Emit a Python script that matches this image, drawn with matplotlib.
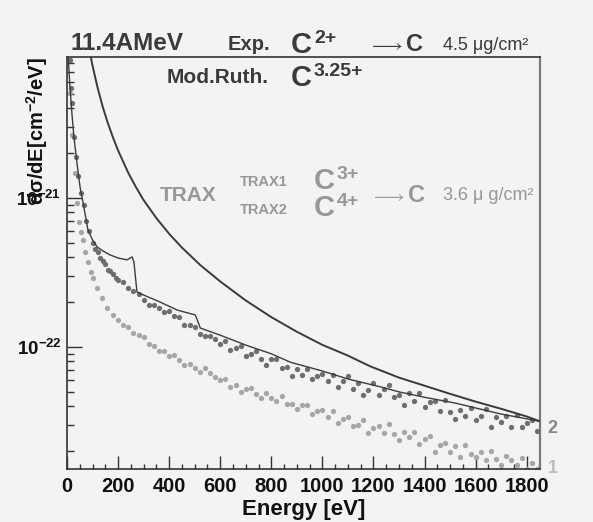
import numpy as np
import matplotlib
matplotlib.use('Agg')
import matplotlib.pyplot as plt
from matplotlib.ticker import FixedLocator, FixedFormatter, LogLocator, MultipleLocator, NullFormatter

plt.rcParams['font.family'] = ['Liberation Sans', 'DejaVu Sans']
plt.rcParams['mathtext.fontset'] = 'custom'
plt.rcParams['mathtext.rm'] = 'Liberation Sans'
plt.rcParams['mathtext.bf'] = 'Liberation Sans:bold'
plt.rcParams['mathtext.it'] = 'Liberation Sans:italic'

SCALE = 1e-22  # values below are in units of 1e-22 cm^-2/eV

# Modified Rutherford curve C^3.25+
ruth_E = [85, 93, 100, 120, 140, 160, 180, 200, 240, 270, 298, 350, 400, 450, 522, 600,
          700, 800, 900, 1000, 1100, 1188, 1300, 1400, 1500, 1600, 1700, 1800, 1850]
ruth_v = [104.6, 88.3, 76.9, 54.6, 40.7, 31.7, 25.4, 20.8, 14.7, 11.8, 9.77, 7.31, 5.74,
          4.64, 3.54, 2.75, 2.05, 1.585, 1.265, 1.033, 0.875, 0.741, 0.623, 0.55, 0.485,
          0.43, 0.385, 0.342, 0.318]

# TRAX calculation (thin line with edges)
trax_E = [3, 10, 18, 27, 40, 51, 63, 82, 100, 118, 140, 169, 200, 235, 255, 262, 274, 300,
          365, 431, 502, 510, 522, 600, 700, 800, 875, 1000, 1100, 1228, 1300, 1400, 1522,
          1600, 1700, 1850]
trax_v = [98.4, 61.9, 39.0, 25.7, 16.6, 11.85, 9.25, 6.10, 5.22, 4.69, 4.41, 4.14, 3.95, 3.84,
          4.02, 3.72, 2.34, 2.23, 2.00, 1.77, 1.64, 1.52, 1.34, 1.20, 1.03, 0.90, 0.79, 0.69,
          0.61, 0.54, 0.50, 0.46, 0.42, 0.39, 0.355, 0.318]

# dots, series 2 (darker)
d2_E = [10, 15, 20, 27, 35, 45, 55, 65, 75, 88, 100, 110, 120, 130, 140, 150, 160, 170, 180,
        190, 200, 220, 240, 260, 280, 300, 320, 340, 360, 380, 400, 420, 440, 460, 480, 500,
        520, 540, 560, 580, 600, 620, 640, 660, 680, 700, 720, 740, 760, 780, 800, 820, 840,
        860, 880, 900, 920, 940, 960, 980, 1000, 1020, 1040, 1060, 1080, 1100, 1120, 1140,
        1160, 1180, 1200, 1220, 1240, 1260, 1280, 1300, 1320, 1340, 1360, 1380, 1400, 1420,
        1440, 1460, 1480, 1500, 1520, 1540, 1560, 1580, 1600, 1620, 1640, 1660, 1680, 1700,
        1720, 1740, 1760, 1780, 1800, 1820, 1840]
d2_v = [84.4, 54.7, 43.4, 25.7, 18.8, 14.0, 10.8, 8.98, 7.01, 6.01, 4.99, 4.54, 4.34, 3.95,
        3.77, 3.60, 3.28, 3.23, 3.09, 2.90, 2.81, 2.73, 2.49, 2.37, 2.27, 2.07, 1.91, 1.91,
        1.83, 1.72, 1.74, 1.61, 1.59, 1.40, 1.40, 1.36, 1.22, 1.185, 1.185, 1.13, 1.047, 1.097,
        0.955, 0.985, 1.016, 0.870, 0.898, 0.940, 0.831, 0.757, 0.831, 0.831, 0.723, 0.734,
        0.639, 0.712, 0.649, 0.712, 0.610, 0.639, 0.659, 0.591, 0.649, 0.539, 0.591, 0.639,
        0.523, 0.573, 0.476, 0.514, 0.573, 0.476, 0.523, 0.556, 0.462, 0.476, 0.408, 0.491,
        0.434, 0.491, 0.396, 0.427, 0.434, 0.372, 0.441, 0.366, 0.329, 0.378, 0.344, 0.390,
        0.324, 0.344, 0.384, 0.291, 0.339, 0.314, 0.344, 0.291, 0.350, 0.291, 0.309, 0.324,
        0.273]

# dots, series 1 (lighter)
d1_E = [12, 20, 31, 39, 47, 55, 62, 71, 82, 94, 102, 118, 137, 157, 180, 200, 220, 240, 260,
        280, 300, 320, 340, 360, 380, 400, 420, 440, 460, 480, 500, 520, 540, 560, 580, 600,
        620, 640, 660, 680, 700, 720, 740, 760, 780, 800, 820, 840, 860, 880, 900, 920, 940,
        960, 980, 1000, 1020, 1040, 1060, 1080, 1100, 1120, 1140, 1160, 1180, 1200, 1220,
        1240, 1260, 1280, 1300, 1320, 1340, 1360, 1380, 1400, 1420, 1440, 1460, 1480, 1500,
        1520, 1540, 1560, 1580, 1600, 1620, 1640, 1660, 1680, 1700, 1720, 1740, 1760, 1780,
        1800, 1820, 1840]
d1_v = [50.7, 26.5, 14.7, 9.25, 6.90, 5.91, 5.22, 4.34, 3.72, 3.19, 2.90, 2.49, 2.13, 1.83,
        1.64, 1.517, 1.405, 1.362, 1.241, 1.204, 1.167, 1.047, 1.016, 0.940, 0.940, 0.870,
        0.884, 0.818, 0.757, 0.769, 0.723, 0.680, 0.723, 0.669, 0.629, 0.600, 0.610, 0.539,
        0.556, 0.499, 0.523, 0.531, 0.484, 0.455, 0.491, 0.455, 0.434, 0.469, 0.414, 0.414,
        0.384, 0.408, 0.408, 0.355, 0.372, 0.378, 0.339, 0.372, 0.309, 0.329, 0.339, 0.295,
        0.300, 0.324, 0.265, 0.286, 0.295, 0.265, 0.304, 0.261, 0.2375, 0.269, 0.249, 0.269,
        0.2234, 0.241, 0.253, 0.197, 0.220, 0.227, 0.197, 0.2166, 0.183, 0.220, 0.191, 0.183,
        0.197, 0.174, 0.200, 0.177, 0.1614, 0.1855, 0.174, 0.1614, 0.180, 0.1518, 0.1665,
        0.1518]

x_ticks = [0, 200, 400, 600, 800, 1000, 1200, 1400, 1600, 1800]
y_ticks = [1e-22, 1e-21]
y_ticklabels = [r'$\mathbf{10^{-22}}$', r'$\mathbf{10^{-21}}$']

BG = '#f3f3f3'
DARK = '#3a3a3a'
LG = '#979797'
W, H = 593, 522

fig = plt.figure(figsize=(W / 100, H / 100), dpi=100, facecolor=BG)
ax = fig.add_axes([67 / W, 1 - 469 / H, (540 - 67) / W, (469 - 57) / H], facecolor=BG)

def px(x, y):
    return x / W, 1 - y / H

ax.plot(d1_E, np.array(d1_v) * SCALE, 'o', color='#a6a6a6', ms=3.8, mew=0, zorder=2)
ax.plot(d2_E, np.array(d2_v) * SCALE, 'o', color='#6e6e6e', ms=3.8, mew=0, zorder=3)
ax.plot(trax_E, np.array(trax_v) * SCALE, '-', color='#3c3c3c', lw=1.0, zorder=4)
ax.plot(ruth_E, np.array(ruth_v) * SCALE, '-', color=DARK, lw=1.4, zorder=5)

ax.set_yscale('log')
ax.set_xlim(0, 1852)
ax.set_ylim(1.52e-23, 8.8e-21)

ax.xaxis.set_major_locator(FixedLocator(x_ticks))
ax.xaxis.set_minor_locator(MultipleLocator(50))
ax.yaxis.set_major_locator(FixedLocator(y_ticks))
ax.yaxis.set_major_formatter(FixedFormatter(y_ticklabels))
ax.yaxis.set_minor_locator(LogLocator(base=10, subs=np.arange(2, 10)))
ax.yaxis.set_minor_formatter(NullFormatter())

ax.tick_params(axis='both', which='both', direction='in', colors='#333333', width=1.0)
ax.tick_params(axis='x', which='major', length=9.5, pad=6, labelsize=14.5)
ax.tick_params(axis='x', which='minor', length=3.5)
ax.tick_params(axis='y', which='major', length=11, pad=4, labelsize=13.5)
ax.tick_params(axis='y', which='minor', length=5)
ax.tick_params(right=False, top=False, which='both')
for lab in ax.get_xticklabels():
    lab.set_fontweight('bold')
    lab.set_color('#111111')
for lab in ax.get_yticklabels():
    lab.set_color('#111111')

for s in ['left', 'bottom', 'top']:
    ax.spines[s].set_color('#333333')
    ax.spines[s].set_linewidth(1.2)
ax.spines['right'].set_color('#7a7a7a')
ax.spines['right'].set_linewidth(1.6)

ax.set_xlabel('Energy [eV]', fontsize=16, fontweight='bold', labelpad=2, color='#111111')
ax.text(-0.063, 1.0, 'dσ/dE[cm$^{\\mathbf{-2}}$/eV]', transform=ax.transAxes,
        rotation=90, ha='center', va='top', fontsize=14.5, fontweight='bold', color='#111111')


def charge(x, y, sup, color):
    # big C with a raised charge state
    fig.text(*px(x, y), 'C', fontsize=21, fontweight='bold', color=color, va='baseline')
    fig.text(*px(x + 23, y - 10), sup, fontsize=14, fontweight='bold', color=color,
             va='baseline')


# header texts
fig.text(*px(70, 50), '11.4AMeV', fontsize=17.5, fontweight='bold', color=DARK, va='baseline')
fig.text(*px(228, 50), 'Exp.', fontsize=14.5, fontweight='bold', color=DARK, va='baseline')
charge(291, 53, '2+', DARK)
fig.text(*px(368, 51), r'$\longrightarrow$', fontsize=14, color=DARK, va='baseline')
fig.text(*px(406, 51), 'C', fontsize=17, fontweight='bold', color=DARK, va='baseline')
fig.text(*px(443, 50), '4.5 μg/cm²', fontsize=13, color=DARK, va='baseline')

fig.text(*px(167, 83), 'Mod.Ruth.', fontsize=15, fontweight='bold', color=DARK, va='baseline')
charge(291, 86, '3.25+', DARK)

fig.text(*px(160, 201), 'TRAX', fontsize=15, fontweight='bold', color=LG, va='baseline')
fig.text(*px(240, 186), 'TRAX1', fontsize=10.5, fontweight='bold', color=LG, va='baseline')
fig.text(*px(240, 214), 'TRAX2', fontsize=10.5, fontweight='bold', color=LG, va='baseline')
charge(314, 189, '3+', LG)
charge(314, 216, '4+', LG)
fig.text(*px(370, 202), r'$\longrightarrow$', fontsize=14, color=LG, va='baseline')
fig.text(*px(408, 202), 'C', fontsize=17, fontweight='bold', color=LG, va='baseline')
fig.text(*px(443, 200), '3.6 μ g/cm²', fontsize=13, color=LG, va='baseline')

fig.text(*px(547, 433), '2', fontsize=13, fontweight='bold', color='#888888', va='baseline')
fig.text(*px(548, 473), '1', fontsize=13, fontweight='bold', color='#bbbbbb', va='baseline')

fig.savefig('out.png', dpi=100, facecolor=BG)
